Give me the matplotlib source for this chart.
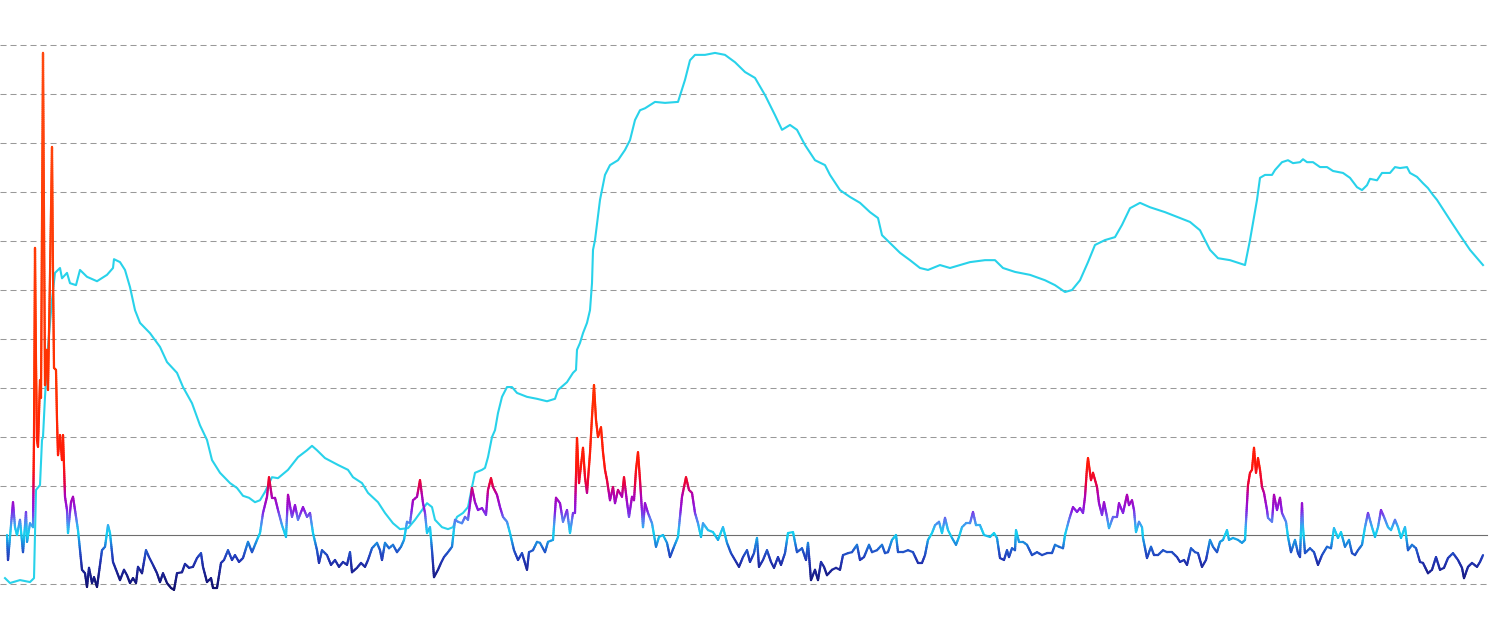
import numpy as np
import matplotlib
matplotlib.use("Agg")
import matplotlib.pyplot as plt
from matplotlib.collections import LineCollection
from matplotlib.colors import LinearSegmentedColormap, Normalize

# oscillator series (colour follows value)
osc_x = [7, 8, 13, 15, 17, 20, 23, 26, 27, 30, 33, 34, 35, 36, 37, 38, 40, 41, 43, 45,
         47, 48, 50, 52, 53, 54, 56, 57, 58, 60, 62, 63, 65, 67, 68, 71, 73, 75, 78, 82,
         85, 87, 89, 92, 94, 97, 99, 102, 105, 108, 110, 113, 117, 120, 124, 127, 130, 133, 136, 138,
         142, 146, 149, 153, 157, 160, 163, 167, 171, 174, 177, 182, 185, 189, 193, 197, 201, 203, 207, 211,
         213, 217, 221, 224, 228, 232, 235, 239, 243, 248, 252, 257, 260, 263, 267, 269, 272, 275, 278, 282,
         286, 288, 292, 295, 298, 303, 307, 310, 313, 317, 319, 322, 327, 331, 335, 339, 343, 347, 350, 352,
         357, 361, 365, 368, 372, 377, 380, 382, 385, 389, 393, 397, 401, 404, 407, 410, 413, 417, 420, 423,
         425, 427, 430, 432, 434, 438, 441, 444, 448, 452, 455, 458, 462, 465, 468, 472, 475, 478, 482, 486,
         488, 491, 493, 497, 500, 503, 507, 510, 514, 518, 522, 527, 529, 533, 537, 540, 545, 548, 553, 556,
         560, 563, 567, 570, 573, 575, 577, 579, 583, 585, 587, 590, 592, 594, 596, 598, 601, 603, 605, 607,
         610, 613, 615, 618, 622, 624, 627, 629, 632, 634, 636, 638, 640, 643, 645, 648, 652, 656, 659, 663,
         667, 670, 674, 678, 682, 686, 689, 692, 695, 698, 701, 703, 708, 713, 718, 723, 727, 731, 735, 739,
         743, 747, 750, 754, 757, 759, 763, 767, 771, 774, 778, 781, 785, 788, 793, 797, 802, 806, 808, 811,
         815, 818, 821, 824, 827, 832, 836, 840, 843, 848, 852, 857, 860, 864, 869, 872, 877, 882, 885, 888,
         892, 896, 898, 903, 908, 913, 918, 922, 925, 928, 932, 935, 939, 942, 945, 948, 952, 956, 959, 962,
         966, 970, 973, 976, 980, 984, 990, 994, 997, 1000, 1004, 1007, 1009, 1012, 1015, 1016, 1019, 1023, 1027, 1032,
         1037, 1042, 1047, 1052, 1055, 1059, 1063, 1065, 1069, 1073, 1077, 1080, 1083, 1085, 1087, 1088, 1091, 1093, 1097, 1099,
         1102, 1104, 1107, 1109, 1113, 1117, 1119, 1123, 1127, 1129, 1132, 1134, 1136, 1139, 1142, 1143, 1147, 1151, 1154, 1158,
         1163, 1167, 1172, 1177, 1180, 1184, 1187, 1191, 1195, 1198, 1202, 1206, 1210, 1213, 1217, 1220, 1223, 1227, 1229, 1233,
         1238, 1242, 1245, 1248, 1250, 1252, 1254, 1256, 1258, 1260, 1262, 1264, 1267, 1268, 1272, 1274, 1277, 1280, 1282, 1286,
         1288, 1291, 1295, 1298, 1300, 1302, 1303, 1305, 1310, 1314, 1318, 1322, 1327, 1331, 1334, 1338, 1341, 1345, 1349, 1352,
         1355, 1358, 1362, 1365, 1368, 1372, 1375, 1378, 1381, 1384, 1388, 1391, 1395, 1398, 1401, 1405, 1408, 1412, 1416, 1420,
         1423, 1428, 1432, 1436, 1440, 1444, 1448, 1453, 1458, 1462, 1464, 1468, 1472, 1477, 1480, 1483]
osc_y = [0.00, -0.51, 0.67, 0.16, 0.00, 0.31, -0.35, 0.47, -0.14, 0.24, 0.16, 2.00, 5.86, 3.50, 1.94, 1.80, 3.16, 2.80, 9.84, 3.06,
         3.78, 2.96, 5.30, 7.92, 5.35, 3.41, 3.37, 2.35, 1.63, 2.04, 1.53, 2.04, 0.78, 0.51, 0.04, 0.67, 0.78, 0.51, 0.10, -0.71,
         -0.78, -1.06, -0.67, -0.98, -0.86, -1.06, -0.76, -0.31, -0.24, 0.20, 0.04, -0.55, -0.76, -0.92, -0.71, -0.82, -0.98, -0.88, -0.98, -0.65,
         -0.78, -0.31, -0.45, -0.61, -0.78, -0.96, -0.78, -0.98, -1.08, -1.12, -0.78, -0.76, -0.59, -0.67, -0.65, -0.47, -0.37, -0.65, -0.96, -0.88,
         -1.08, -1.08, -0.57, -0.51, -0.31, -0.51, -0.41, -0.55, -0.47, -0.14, -0.35, -0.10, 0.04, 0.45, 0.78, 1.18, 0.76, 0.76, 0.51, 0.20,
         -0.04, 0.82, 0.37, 0.61, 0.31, 0.57, 0.37, 0.45, 0.04, -0.31, -0.57, -0.31, -0.41, -0.61, -0.51, -0.65, -0.55, -0.61, -0.35, -0.76,
         -0.67, -0.57, -0.65, -0.51, -0.27, -0.16, -0.31, -0.51, -0.16, -0.27, -0.20, -0.35, -0.24, -0.10, 0.27, 0.24, 0.71, 0.78, 1.12, 0.65,
         0.45, 0.04, 0.16, -0.31, -0.86, -0.71, -0.57, -0.45, -0.35, -0.24, 0.31, 0.27, 0.24, 0.37, 0.31, 0.96, 0.67, 0.51, 0.55, 0.41,
         0.92, 1.16, 0.98, 0.82, 0.57, 0.37, 0.27, 0.04, -0.31, -0.51, -0.37, -0.71, -0.35, -0.31, -0.14, -0.16, -0.35, -0.14, -0.10, 0.76,
         0.65, 0.27, 0.51, 0.04, 0.45, 0.45, 1.98, 1.06, 1.78, 1.18, 0.86, 1.67, 2.41, 3.06, 2.35, 2.00, 2.20, 1.69, 1.33, 1.12,
         0.71, 0.98, 0.65, 0.92, 0.78, 1.18, 0.67, 0.37, 0.78, 0.71, 1.33, 1.69, 1.12, 0.16, 0.65, 0.45, 0.24, -0.24, -0.04, 0.00,
         -0.16, -0.45, -0.24, -0.04, 0.78, 1.18, 0.92, 0.86, 0.45, 0.24, -0.04, 0.24, 0.10, 0.06, -0.10, 0.16, -0.16, -0.37, -0.51, -0.65,
         -0.45, -0.31, -0.55, -0.37, -0.06, -0.65, -0.51, -0.31, -0.55, -0.67, -0.45, -0.61, -0.37, 0.04, 0.06, -0.35, -0.27, -0.51, -0.16, -0.92,
         -0.71, -0.92, -0.55, -0.65, -0.82, -0.71, -0.67, -0.71, -0.41, -0.37, -0.35, -0.20, -0.51, -0.45, -0.20, -0.35, -0.31, -0.20, -0.37, -0.35,
         -0.10, 0.00, -0.35, -0.35, -0.31, -0.35, -0.57, -0.57, -0.41, -0.10, 0.04, 0.20, 0.27, 0.04, 0.35, 0.10, -0.06, -0.20, -0.04, 0.16,
         0.24, 0.24, 0.47, 0.20, 0.20, 0.00, -0.04, 0.04, -0.06, -0.47, -0.51, -0.31, -0.45, -0.27, -0.31, 0.10, -0.14, -0.14, -0.20, -0.41,
         -0.35, -0.41, -0.37, -0.37, -0.20, -0.24, -0.27, 0.00, 0.31, 0.57, 0.47, 0.55, 0.45, 0.78, 1.37, 1.57, 1.12, 1.27, 0.98, 0.65,
         0.41, 0.67, 0.37, 0.14, 0.37, 0.37, 0.65, 0.45, 0.82, 0.61, 0.71, 0.51, 0.06, 0.27, 0.16, -0.06, -0.47, -0.24, -0.41, -0.41,
         -0.31, -0.35, -0.35, -0.45, -0.55, -0.51, -0.61, -0.27, -0.35, -0.37, -0.65, -0.51, -0.10, -0.24, -0.35, -0.14, -0.10, 0.10, -0.10, -0.06,
         -0.10, -0.16, -0.10, 1.02, 1.27, 1.33, 1.78, 1.27, 1.57, 1.33, 0.98, 0.86, 0.51, 0.35, 0.27, 0.82, 0.51, 0.76, 0.45, 0.27,
         -0.04, -0.35, -0.10, -0.37, -0.45, 0.65, 0.16, -0.37, -0.27, -0.35, -0.61, -0.41, -0.24, -0.27, 0.14, -0.06, 0.06, -0.24, -0.10, -0.37,
         -0.41, -0.31, -0.20, 0.16, 0.45, 0.16, -0.04, 0.16, 0.51, 0.37, 0.16, 0.10, 0.31, 0.16, -0.06, 0.16, -0.31, -0.20, -0.27, -0.55,
         -0.57, -0.78, -0.71, -0.45, -0.71, -0.67, -0.47, -0.37, -0.51, -0.67, -0.88, -0.65, -0.57, -0.65, -0.55, -0.41]

# trend series (single cyan line)
trend_x = [5, 10, 20, 30, 34, 36, 40, 42, 43, 45, 48, 52, 55, 60, 62, 67, 70, 76, 80, 87,
           97, 107, 113, 114, 120, 125, 130, 135, 140, 150, 160, 167, 177, 183, 192, 200, 207, 212, 220, 230,
           237, 243, 249, 255, 260, 265, 272, 278, 288, 298, 307, 312, 317, 325, 338, 348, 353, 362, 368, 378,
           385, 393, 400, 408, 415, 422, 427, 432, 435, 442, 448, 453, 457, 463, 468, 472, 475, 482, 485, 488,
           492, 495, 498, 502, 507, 512, 517, 527, 537, 547, 555, 558, 567, 573, 576, 577, 580, 583, 587, 590,
           592, 593, 595, 600, 605, 610, 618, 625, 630, 635, 640, 645, 655, 665, 678, 685, 690, 695, 705, 715,
           725, 735, 745, 755, 765, 775, 782, 790, 797, 805, 815, 825, 830, 840, 850, 860, 870, 878, 882, 890,
           900, 910, 920, 928, 940, 950, 960, 970, 985, 995, 1003, 1015, 1030, 1045, 1055, 1065, 1072, 1080, 1088, 1095,
           1105, 1115, 1122, 1130, 1140, 1150, 1165, 1180, 1190, 1200, 1210, 1218, 1230, 1245, 1250, 1257, 1260, 1265, 1272, 1275,
           1282, 1288, 1293, 1300, 1303, 1307, 1313, 1320, 1327, 1333, 1343, 1350, 1357, 1362, 1367, 1370, 1377, 1382, 1390, 1395,
           1400, 1407, 1410, 1417, 1423, 1428, 1433, 1437, 1450, 1460, 1470, 1483]
trend_y = [-0.88, -0.98, -0.92, -0.96, -0.88, 0.92, 1.02, 1.94, 2.00, 2.82, 3.84, 4.80, 5.35, 5.45, 5.24, 5.35, 5.14, 5.10, 5.41, 5.27,
           5.18, 5.31, 5.45, 5.63, 5.57, 5.41, 5.06, 4.59, 4.33, 4.12, 3.84, 3.53, 3.31, 3.02, 2.69, 2.24, 1.94, 1.53, 1.27, 1.06,
           0.96, 0.80, 0.76, 0.67, 0.71, 0.88, 1.18, 1.16, 1.33, 1.59, 1.73, 1.82, 1.73, 1.57, 1.43, 1.33, 1.18, 1.06, 0.86, 0.67,
           0.45, 0.24, 0.12, 0.14, 0.31, 0.51, 0.65, 0.57, 0.31, 0.16, 0.12, 0.16, 0.37, 0.45, 0.57, 0.98, 1.27, 1.33, 1.37, 1.59,
           2.00, 2.14, 2.49, 2.82, 3.02, 3.02, 2.90, 2.82, 2.78, 2.73, 2.78, 2.96, 3.12, 3.31, 3.37, 3.78, 3.92, 4.12, 4.33, 4.59,
           5.14, 5.82, 6.02, 6.84, 7.35, 7.55, 7.65, 7.86, 8.06, 8.47, 8.67, 8.71, 8.84, 8.82, 8.84, 9.29, 9.69, 9.80, 9.80, 9.84,
           9.80, 9.65, 9.45, 9.33, 8.98, 8.57, 8.27, 8.37, 8.27, 7.96, 7.65, 7.55, 7.35, 7.04, 6.90, 6.78, 6.59, 6.47, 6.12, 5.96,
           5.76, 5.61, 5.45, 5.41, 5.51, 5.45, 5.51, 5.57, 5.61, 5.61, 5.45, 5.37, 5.31, 5.20, 5.10, 4.96, 5.00, 5.20, 5.57, 5.92,
           6.02, 6.08, 6.33, 6.67, 6.78, 6.69, 6.59, 6.47, 6.39, 6.22, 5.82, 5.65, 5.61, 5.51, 6.02, 6.84, 7.29, 7.35, 7.35, 7.45,
           7.61, 7.65, 7.59, 7.61, 7.67, 7.61, 7.61, 7.51, 7.51, 7.43, 7.39, 7.29, 7.10, 7.04, 7.14, 7.27, 7.24, 7.39, 7.39, 7.51,
           7.49, 7.51, 7.39, 7.31, 7.18, 7.08, 6.94, 6.84, 6.43, 6.12, 5.82, 5.51]

grid_levels = [-1, 1, 2, 3, 4, 5, 6, 7, 8, 9, 10]

# colour stops for the oscillator (value -> colour)
stop_vals = [-1.15, -0.8, -0.5, -0.3, -0.1, 0.0, 0.15, 0.3, 0.5, 0.8, 1.05, 1.4, 3.0, 10.0]
stop_cols = ['#0e0e6a', '#1a2090', '#2238b8', '#2060d0', '#18a8e8', '#12d6f0', '#30b0f0',
             '#5a78f0', '#8a18e0', '#b000b0', '#e8003c', '#ff180a', '#ff3000', '#ff4a10']
vmin, vmax = stop_vals[0], stop_vals[-1]
cmap = LinearSegmentedColormap.from_list(
    'osc', [((v - vmin) / (vmax - vmin), c) for v, c in zip(stop_vals, stop_cols)])
norm = Normalize(vmin, vmax)

fig = plt.figure(figsize=(14.9, 6.33), dpi=100)
ax = fig.add_axes([0, 0, 1, 1])
ax.axis('off')
ax.set_xlim(0, 1490)
ax.set_ylim(-2.0, 10.92)

for g in grid_levels:
    ax.axhline(g, xmax=1487 / 1490, color='#999999', lw=0.75,
               linestyle=(0, (5.8, 3.8)), zorder=1)
ax.axhline(0, xmax=1487 / 1490, color='#6e6e6e', lw=0.8, zorder=1)

ax.plot(trend_x, trend_y, color='#28d2ea', lw=1.5, zorder=2)

# split long segments only so the colour can change along them
x = np.asarray(osc_x, float)
y = np.asarray(osc_y, float)
px, py = [x[0]], [y[0]]
for i in range(len(x) - 1):
    n = max(1, int(np.ceil(abs(y[i + 1] - y[i]) / 0.04)))
    t = np.linspace(0, 1, n + 1)[1:]
    px.extend(x[i] + (x[i + 1] - x[i]) * t)
    py.extend(y[i] + (y[i + 1] - y[i]) * t)
pts = np.column_stack([px, py]).reshape(-1, 1, 2)
segs = np.concatenate([pts[:-1], pts[1:]], axis=1)
mid = (np.array(py[:-1]) + np.array(py[1:])) / 2
lc = LineCollection(segs, cmap=cmap, norm=norm, linewidths=1.6,
                    capstyle='round', joinstyle='round', zorder=3)
lc.set_array(mid)
ax.add_collection(lc)

fig.savefig('out.png', dpi=100, facecolor='white')
